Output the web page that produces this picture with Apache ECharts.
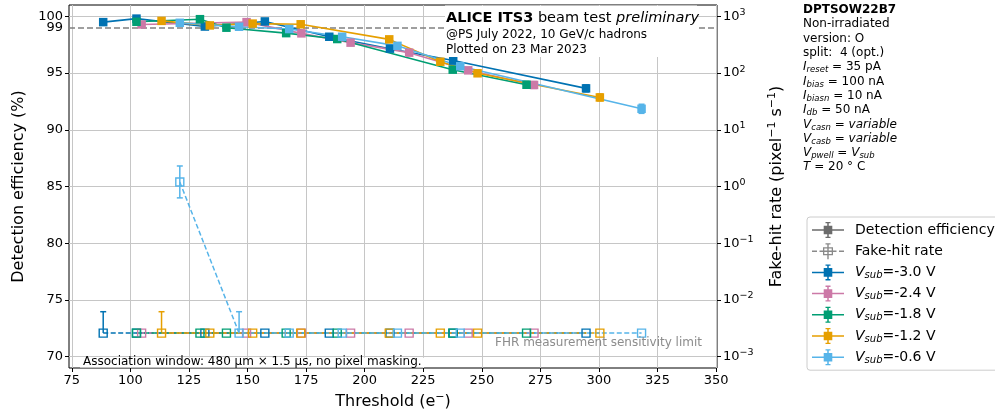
<!DOCTYPE html>
<html><head><meta charset="utf-8">
<script src="https://cdn.jsdelivr.net/npm/echarts@6/dist/echarts.min.js"></script>
<style>html,body{margin:0;padding:0;background:#fff}#c{width:995px;height:414px}</style>
</head><body><div id="c"></div><script>
// ---------------- data ----------------
const xTicks = [75, 100, 125, 150, 175, 200, 225, 250, 275, 300, 325, 350];
const effTicks = [70, 75, 80, 85, 90, 95, 100];
const fhrTicks = [0.001, 0.01, 0.1, 1, 10, 100, 1000];
const effRef = 99;
const fhrLimit = 0.0026;

const seriesNames = ['Vsub=-3.0 V', 'Vsub=-2.4 V', 'Vsub=-1.8 V', 'Vsub=-1.2 V', 'Vsub=-0.6 V'];
const seriesColors = ['#0072B2', '#CC79A7', '#009E73', '#E69F00', '#56B4E9'];

const thr_m30 = [88.4, 102.6, 131.8, 157.4, 184.9, 210.8, 237.8, 294.5];
const eff_m30 = [99.49, 99.80, 99.10, 99.55, 98.20, 97.15, 96.10, 93.65];
const effErr_m30 = [0.12, 0.10, 0.12, 0.10, 0.15, 0.18, 0.2, 0.3];
const fhr_m30 = [0.0026, 0.0026, 0.0026, 0.0026, 0.0026, 0.0026, 0.0026, 0.0026];
const fhrLo_m30 = [null, null, null, null, null, null, null, null];
const fhrHi_m30 = [0.0062, null, null, null, null, null, null, null];

const thr_m24 = [104.8, 149.6, 173.0, 194.0, 219.0, 244.2, 272.3];
const eff_m24 = [99.28, 99.49, 98.50, 97.68, 96.80, 95.24, 93.95];
const effErr_m24 = [0.10, 0.10, 0.12, 0.15, 0.18, 0.2, 0.3];
const fhr_m24 = [0.0026, 0.0026, 0.0026, 0.0026, 0.0026, 0.0026, 0.0026];
const fhrLo_m24 = [null, null, null, null, null, null, null];
const fhrHi_m24 = [null, null, null, null, null, null, null];

const thr_m18 = [102.6, 129.7, 141.0, 166.5, 188.3, 237.6, 269.1];
const eff_m18 = [99.52, 99.75, 99.00, 98.52, 98.00, 95.30, 93.97];
const effErr_m18 = [0.10, 0.10, 0.12, 0.12, 0.15, 0.2, 0.3];
const fhr_m18 = [0.0026, 0.0026, 0.0026, 0.0026, 0.0026, 0.0026, 0.0026];
const fhrLo_m18 = [null, null, null, null, null, null, null];
const fhrHi_m18 = [null, null, null, null, null, null, null];

const thr_m12 = [113.3, 133.9, 152.2, 172.7, 210.5, 232.3, 248.2, 300.4];
const eff_m12 = [99.60, 99.20, 99.36, 99.30, 97.97, 96.00, 94.98, 92.85];
const effErr_m12 = [0.10, 0.12, 0.10, 0.10, 0.15, 0.2, 0.2, 0.3];
const fhr_m12 = [0.0026, 0.0026, 0.0026, 0.0026, 0.0026, 0.0026, 0.0026, 0.0026];
const fhrLo_m12 = [null, null, null, null, null, null, null, null];
const fhrHi_m12 = [0.0062, null, null, null, null, null, null, null];

const thr_m06 = [121.1, 146.4, 167.8, 190.4, 214.0, 240.8, 318.2];
const eff_m06 = [99.43, 99.08, 98.88, 98.20, 97.40, 95.60, 91.85];
const effErr_m06 = [0.10, 0.12, 0.12, 0.15, 0.18, 0.2, 0.4];
const fhr_m06 = [1.2, 0.0026, 0.0026, 0.0026, 0.0026, 0.0026, 0.0026];
const fhrLo_m06 = [0.63, null, null, null, null, null, null];
const fhrHi_m06 = [2.3, 0.0062, null, null, null, null, null];

const groups = [
  {thr: thr_m30, eff: eff_m30, effErr: effErr_m30, fhr: fhr_m30, fhrLo: fhrLo_m30, fhrHi: fhrHi_m30},
  {thr: thr_m24, eff: eff_m24, effErr: effErr_m24, fhr: fhr_m24, fhrLo: fhrLo_m24, fhrHi: fhrHi_m24},
  {thr: thr_m18, eff: eff_m18, effErr: effErr_m18, fhr: fhr_m18, fhrLo: fhrLo_m18, fhrHi: fhrHi_m18},
  {thr: thr_m12, eff: eff_m12, effErr: effErr_m12, fhr: fhr_m12, fhrLo: fhrLo_m12, fhrHi: fhrHi_m12},
  {thr: thr_m06, eff: eff_m06, effErr: effErr_m06, fhr: fhr_m06, fhrLo: fhrLo_m06, fhrHi: fhrHi_m06}
];

// ---------------- chart ----------------
const FONT = 'DejaVu Sans';
const chart = echarts.init(document.getElementById('c'), null, {renderer: 'canvas'});

const iconEff = 'path://M0,7.25H32V8.75H0Z M15.25,0H16.75V16H15.25Z M13.5,0H18.5V1.3H13.5Z M13.5,14.7H18.5V16H13.5Z M11.7,3.7H20.3V12.3H11.7Z';
const iconFhr = 'path://M0,7.3H5V8.7H0Z M7.5,7.3H11V8.7H7.5Z M21,7.3H24.5V8.7H21Z M27,7.3H32V8.7H27Z M11,4H21V12H11Z M12.3,5.3V10.7H19.7V5.3Z M15.3,0H16.7V16H15.3Z M12.3,7.3H19.7V8.7H12.3Z M13.5,0H18.5V1.3H13.5Z';

function errRender(color) {
  return function (params, api) {
    const x = api.value(0), lo = api.value(1), hi = api.value(2);
    const capLo = api.value(3), capHi = api.value(4);
    const pLo = api.coord([x, lo]);
    const pHi = api.coord([x, hi]);
    const st = {stroke: color, lineWidth: 1.5, fill: null};
    const c = 3;
    const ch = [{type: 'line', shape: {x1: pLo[0], y1: pLo[1], x2: pHi[0], y2: pHi[1]}, style: st}];
    if (capHi) ch.push({type: 'line', shape: {x1: pHi[0] - c, y1: pHi[1], x2: pHi[0] + c, y2: pHi[1]}, style: st});
    if (capLo) ch.push({type: 'line', shape: {x1: pLo[0] - c, y1: pLo[1], x2: pLo[0] + c, y2: pLo[1]}, style: st});
    return {type: 'group', children: ch};
  };
}

const series = [];
// dummy legend series
series.push({name: 'Detection efficiency', type: 'line', data: [], itemStyle: {color: '#6b6b6b'}});
series.push({name: 'Fake-hit rate', type: 'line', data: [], itemStyle: {color: '#8a8a8a'}});

groups.forEach(function (g, i) {
  const color = seriesColors[i];
  const effData = g.thr.map(function (t, k) { return [t, g.eff[k]]; });
  const effErrData = g.thr.map(function (t, k) { return [t, g.eff[k] - g.effErr[k], g.eff[k] + g.effErr[k], 1, 1]; });
  const fhrData = g.thr.map(function (t, k) { return [t, g.fhr[k]]; });
  const fhrErrData = [];
  g.thr.forEach(function (t, k) {
    if (g.fhrLo[k] !== null || g.fhrHi[k] !== null) {
      fhrErrData.push([t, g.fhrLo[k] !== null ? g.fhrLo[k] : g.fhr[k], g.fhrHi[k] !== null ? g.fhrHi[k] : g.fhr[k],
        g.fhrLo[k] !== null ? 1 : 0, g.fhrHi[k] !== null ? 1 : 0]);
    }
  });
  series.push({
    name: 'efferr' + i, type: 'custom', xAxisIndex: 0, yAxisIndex: 0, z: 3,
    renderItem: errRender(color), data: effErrData, encode: {x: 0, y: [1, 2]}, silent: true
  });
  series.push({
    name: 'fhrerr' + i, type: 'custom', xAxisIndex: 0, yAxisIndex: 1, z: 3,
    renderItem: errRender(color), data: fhrErrData, encode: {x: 0, y: [1, 2]}, silent: true
  });
  const fhrSeries = {
    name: 'fhr' + i, type: 'line', xAxisIndex: 0, yAxisIndex: 1, z: 4, data: fhrData,
    symbol: 'rect', symbolSize: 8,
    itemStyle: {color: 'rgba(255,255,255,0)', borderColor: color, borderWidth: 1.4},
    lineStyle: {color: color, width: 1.5, type: [5, 2.5]}, silent: true
  };
  if (i === 0) {
    fhrSeries.markLine = {
      silent: true, symbol: 'none', animation: false,
      label: {show: false},
      lineStyle: {color: '#808080', type: [1.5, 3], width: 1.5},
      data: [{yAxis: fhrLimit}]
    };
  }
  series.push(fhrSeries);
  const effSeries = {
    name: seriesNames[i], type: 'line', xAxisIndex: 0, yAxisIndex: 0, z: 5, data: effData,
    symbol: 'rect', symbolSize: 8.5,
    itemStyle: {color: color},
    lineStyle: {color: color, width: 1.6}, silent: true
  };
  if (i === 0) {
    effSeries.markLine = {
      silent: true, symbol: 'none', animation: false,
      label: {show: true, position: 'start', formatter: '99', color: '#000', fontSize: 13, fontFamily: FONT, distance: 6},
      lineStyle: {color: '#808080', type: [6, 3], width: 1.5},
      data: [{yAxis: effRef}]
    };
  }
  series.push(effSeries);
});

const subRich = {
  i: {fontStyle: 'italic', fontSize: 12, fontFamily: FONT, color: '#000'},
  s: {fontStyle: 'italic', fontSize: 8.5, fontFamily: FONT, color: '#000', padding: [6, 0, 0, 0]},
  n: {fontSize: 12, fontFamily: FONT, color: '#000'},
  b: {fontSize: 12, fontWeight: 'bold', fontFamily: FONT, color: '#000'}
};
const infoLines = [
  '{b|DPTSOW22B7}',
  '{n|Non-irradiated}',
  '{n|version: O}',
  '{n|split:  4 (opt.)}',
  '{i|I}{s|reset}{n| = 35 pA}',
  '{i|I}{s|bias}{n| = 100 nA}',
  '{i|I}{s|biasn}{n| = 10 nA}',
  '{i|I}{s|db}{n| = 50 nA}',
  '{i|V}{s|casn}{n| = }{i|variable}',
  '{i|V}{s|casb}{n| = }{i|variable}',
  '{i|V}{s|pwell}{n| = }{i|V}{s|sub}',
  '{i|T}{n| = 20 ° C}'
];
const graphics = infoLines.map(function (t, k) {
  return {type: 'text', x: 803, y: 10 + k * 14.3, silent: true, z: 100,
    style: {text: t, rich: subRich, verticalAlign: 'middle', align: 'left', fontFamily: FONT, fontSize: 12}};
});
// white boxes behind in-plot annotations (as matplotlib text bbox)
graphics.push({type: 'rect', silent: true, z: 90, shape: {x: 445, y: 5.5, width: 252, height: 51.5}, style: {fill: '#fff'}});
graphics.push({type: 'rect', silent: true, z: 90, shape: {x: 80, y: 357.8, width: 344, height: 9.7}, style: {fill: '#fff'}});
graphics.push({type: 'text', x: 446, y: 18, silent: true, z: 100, style: {
  text: '{b|ALICE ITS3}{n| beam test }{it|preliminary}', verticalAlign: 'middle',
  rich: {b: {fontWeight: 'bold', fontSize: 14.5, fontFamily: FONT, color: '#000'},
         n: {fontSize: 14.5, fontFamily: FONT, color: '#000'},
         it: {fontStyle: 'italic', fontSize: 14.5, fontFamily: FONT, color: '#000'}}}});
graphics.push({type: 'text', x: 446, y: 35, silent: true, z: 100, style: {text: '@PS July 2022, 10 GeV/c hadrons', verticalAlign: 'middle', fontSize: 12, fontFamily: FONT, fill: '#000'}});
graphics.push({type: 'text', x: 446, y: 50, silent: true, z: 100, style: {text: 'Plotted on 23 Mar 2023', verticalAlign: 'middle', fontSize: 12, fontFamily: FONT, fill: '#000'}});
graphics.push({type: 'text', x: 83, y: 362, silent: true, z: 100, style: {text: 'Association window: 480 μm × 1.5 μs, no pixel masking.', verticalAlign: 'middle', fontSize: 12, fontFamily: FONT, fill: '#000'}});
graphics.push({type: 'text', x: 702, y: 343, silent: true, z: 100, style: {text: 'FHR measurement sensitivity limit', align: 'right', verticalAlign: 'middle', fontSize: 12, fontFamily: FONT, fill: '#8c8c8c'}});

const legendRich = {
  i: {fontStyle: 'italic', fontSize: 14, fontFamily: FONT, color: '#000'},
  s: {fontStyle: 'italic', fontSize: 10, fontFamily: FONT, color: '#000', padding: [6, 0, 0, 0]},
  n: {fontSize: 14, fontFamily: FONT, color: '#000'}
};

const supRich = {
  b: {fontSize: 13, fontFamily: FONT, color: '#000'},
  s: {fontSize: 9.5, fontFamily: FONT, color: '#000', padding: [0, 0, 8, 0]}
};
const nameSup = {
  s: {fontSize: 11, fontFamily: FONT, color: '#000', padding: [0, 0, 9, 0]}
};

const option = {
  animation: false,
  backgroundColor: '#fff',
  grid: {left: 69, right: 278, top: 5, bottom: 46, show: true, borderColor: '#000', borderWidth: 1,
         backgroundColor: 'transparent', containLabel: false, outerBoundsMode: 'none'},
  xAxis: {
    type: 'value', min: 73.8, max: 350.4,
    axisLine: {show: false},
    axisTick: {show: true, customValues: xTicks, length: 4, lineStyle: {color: '#000', width: 1}},
    axisLabel: {customValues: xTicks, color: '#000', fontSize: 13, fontFamily: FONT, margin: 6},
    splitLine: {show: true, lineStyle: {color: '#c6c6c6', width: 1}},
    name: 'Threshold (e{s|−})', nameLocation: 'middle', nameGap: 22,
    nameTextStyle: {fontSize: 16, fontFamily: FONT, color: '#000', rich: nameSup}
  },
  yAxis: [{
    type: 'value', min: 69, max: 101, position: 'left',
    axisLine: {show: false},
    axisTick: {show: true, customValues: effTicks, length: 4, lineStyle: {color: '#000', width: 1}},
    axisLabel: {customValues: effTicks, color: '#000', fontSize: 13, fontFamily: FONT, margin: 6},
    splitLine: {show: true, lineStyle: {color: '#c6c6c6', width: 1}},
    name: 'Detection efficiency (%)', nameLocation: 'middle', nameGap: 40, nameRotate: 90,
    nameTextStyle: {fontSize: 16, fontFamily: FONT, color: '#000'}
  }, {
    type: 'log', logBase: 10, min: Math.pow(10, -3.2), max: Math.pow(10, 3.2), position: 'right',
    axisLine: {show: false},
    axisTick: {show: true, customValues: fhrTicks, length: 4, lineStyle: {color: '#000', width: 1}},
    axisLabel: {customValues: fhrTicks, margin: 6, fontFamily: FONT, fontSize: 13, color: '#000', rich: supRich,
      formatter: function (v) {
        const e = Math.round(Math.log10(v));
        return '{b|10}{s|' + (e < 0 ? '−' + (-e) : e) + '}';
      }},
    splitLine: {show: false},
    name: 'Fake-hit rate (pixel{s|−1} s{s|−1})', nameLocation: 'middle', nameGap: 50, nameRotate: 90,
    nameTextStyle: {fontSize: 16, fontFamily: FONT, color: '#000', rich: nameSup}
  }],
  legend: {
    orient: 'vertical', left: 807, top: 217,
    itemWidth: 32, itemHeight: 16, itemGap: 5.2,
    padding: [5, 12, 5, 5],
    backgroundColor: '#fff', borderColor: '#cccccc', borderWidth: 1, borderRadius: 3,
    selectedMode: false,
    textStyle: {fontSize: 14, fontFamily: FONT, color: '#000', rich: legendRich, padding: [0, 0, 0, 6]},
    formatter: function (name) {
      if (name.indexOf('Vsub') === 0) return '{i|V}{s|sub}{n|' + name.slice(4) + '}';
      return '{n|' + name + '}';
    },
    data: [{name: 'Detection efficiency', icon: iconEff}, {name: 'Fake-hit rate', icon: iconFhr}]
      .concat(seriesNames.map(function (n) { return {name: n, icon: iconEff}; }))
  },
  graphic: graphics,
  series: series
};
chart.setOption(option);
</script></body></html>
